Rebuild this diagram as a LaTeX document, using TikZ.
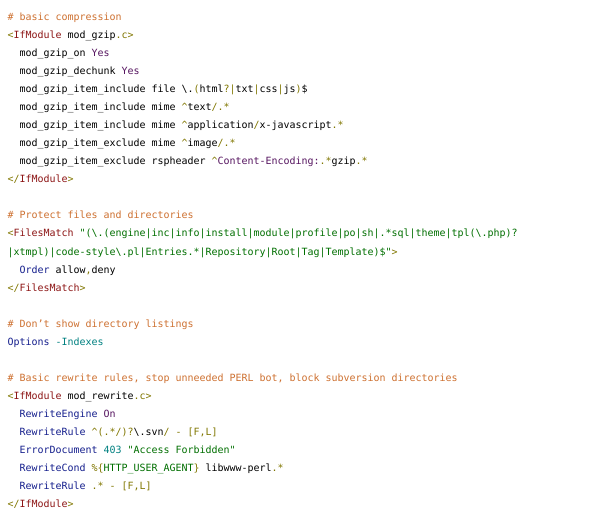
\documentclass[tikz,border=0pt]{standalone}
\usepackage{fontspec}
\newfontfamily\codefont{DejaVu Sans Mono}

\definecolor{cmtcol}{RGB}{205,112,48}
\definecolor{olvcol}{RGB}{128,118,0}
\definecolor{tagcol}{RGB}{140,20,20}
\definecolor{kwdcol}{RGB}{20,30,140}
\definecolor{valcol}{RGB}{85,20,95}
\definecolor{strcol}{RGB}{0,110,0}
\definecolor{numcol}{RGB}{0,128,128}

\newcommand\cmt[1]{\textcolor{cmtcol}{#1}}
\newcommand\olv[1]{\textcolor{olvcol}{#1}}
\newcommand\tgn[1]{\textcolor{tagcol}{#1}}
\newcommand\kwd[1]{\textcolor{kwdcol}{#1}}
\newcommand\val[1]{\textcolor{valcol}{#1}}
\newcommand\str[1]{\textcolor{strcol}{#1}}
\newcommand\nmb[1]{\textcolor{numcol}{#1}}
\newcommand\bsl{\textbackslash}
\newcommand\crt{\textasciicircum}

\begin{document}
\begin{tikzpicture}[x=1bp,y=1bp,yscale=-1,xscale=1,
  code/.style={anchor=base west,inner sep=0pt,font=\codefont\fontsize{10}{12}\selectfont}]
\useasboundingbox (0,0) rectangle (600,520);

% Text Node
\draw (7.5,21) node [code] (l01) {\cmt{\# basic compression}};
% Text Node
\draw (7.5,39) node [code] (l02) {\olv{<}\tgn{IfModule} mod\_gzip\olv{.c>}};
% Text Node
\draw (19.5,57) node [code] (l03) {mod\_gzip\_on \val{Yes}};
% Text Node
\draw (19.5,75) node [code] (l04) {mod\_gzip\_dechunk \val{Yes}};
% Text Node
\draw (19.5,93) node [code] (l05) {mod\_gzip\_item\_include file \bsl{}.\olv{(}html\olv{?|}txt\olv{|}css\olv{|}js\olv{)}\$};
% Text Node
\draw (19.5,111) node [code] (l06) {mod\_gzip\_item\_include mime \olv{\crt{}}text\olv{/.*}};
% Text Node
\draw (19.5,129) node [code] (l07) {mod\_gzip\_item\_include mime \olv{\crt{}}application\olv{/}x-javascript\olv{.*}};
% Text Node
\draw (19.5,147) node [code] (l08) {mod\_gzip\_item\_exclude mime \olv{\crt{}}image\olv{/.*}};
% Text Node
\draw (19.5,165) node [code] (l09) {mod\_gzip\_item\_exclude rspheader \olv{\crt{}}\val{Content-Encoding:}\olv{.*}gzip\olv{.*}};
% Text Node
\draw (7.5,183) node [code] (l10) {\olv{</}\tgn{IfModule}\olv{>}};

% Text Node
\draw (7.5,219) node [code] (l12) {\cmt{\# Protect files and directories}};
% Text Node
\draw (7.5,237) node [code] (l13) {\olv{<}\tgn{FilesMatch} \str{"(\bsl{}.(engine|inc|info|install|module|profile|po|sh|.*sql|theme|tpl(\bsl{}.php)?}};
% Text Node
\draw (7.5,255) node [code] (l14) {\str{|xtmpl)|code-style\bsl{}.pl|Entries.*|Repository|Root|Tag|Template)\$"}\olv{>}};
% Text Node
\draw (19.5,273) node [code] (l15) {\kwd{Order} allow\olv{,}deny};
% Text Node
\draw (7.5,291) node [code] (l16) {\olv{</}\tgn{FilesMatch}\olv{>}};

% Text Node
\draw (7.5,327) node [code] (l18) {\cmt{\# Don’t show directory listings}};
% Text Node
\draw (7.5,345) node [code] (l19) {\kwd{Options} \nmb{-Indexes}};

% Text Node
\draw (7.5,381) node [code] (l21) {\cmt{\# Basic rewrite rules, stop unneeded PERL bot, block subversion directories}};
% Text Node
\draw (7.5,399) node [code] (l22) {\olv{<}\tgn{IfModule} mod\_rewrite\olv{.c>}};
% Text Node
\draw (19.5,417) node [code] (l23) {\kwd{RewriteEngine} \val{On}};
% Text Node
\draw (19.5,435) node [code] (l24) {\kwd{RewriteRule} \olv{\crt{}(.*/)?}\bsl{}.svn\olv{/ - [F,L]}};
% Text Node
\draw (19.5,453) node [code] (l25) {\kwd{ErrorDocument} \nmb{403} \str{"Access Forbidden"}};
% Text Node
\draw (19.5,471) node [code] (l26) {\kwd{RewriteCond} \olv{\%\{}\str{HTTP\_USER\_AGENT}\olv{\}} libwww-perl\olv{.*}};
% Text Node
\draw (19.5,489) node [code] (l27) {\kwd{RewriteRule} \olv{.* - [F,L]}};
% Text Node
\draw (7.5,507) node [code] (l28) {\olv{</}\tgn{IfModule}\olv{>}};
\end{tikzpicture}
\end{document}
